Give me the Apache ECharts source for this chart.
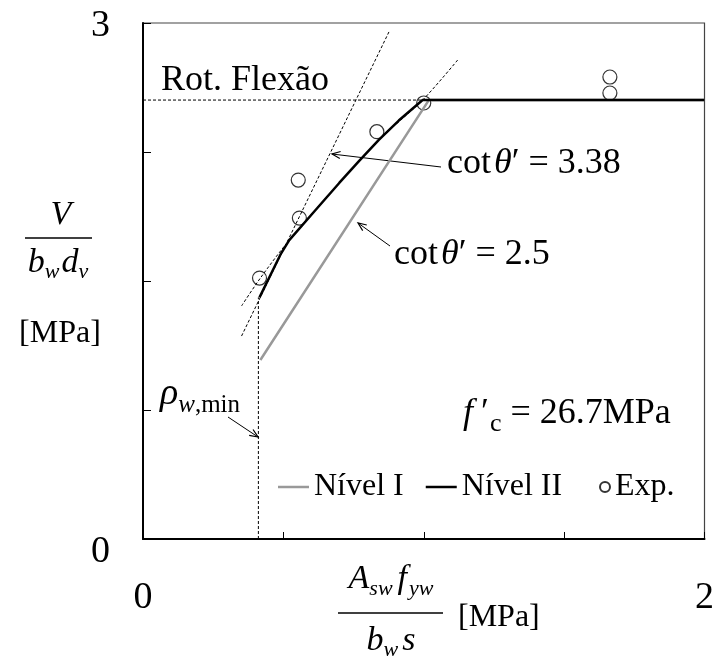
<!DOCTYPE html>
<html><head><meta charset="utf-8">
<script src="https://cdn.jsdelivr.net/npm/echarts@6/dist/echarts.min.js"></script>
<style>html,body{margin:0;padding:0;background:#fff}#c{width:717px;height:660px}</style>
</head><body><div id="c"></div>
<script>
// ---- data ----
const xTickLabels = {0: '0', 2: '2'};
const yTickLabels = {0: '0', 3: '3'};
const nivel1X = [0.418, 1.018, 2.0];
const nivel1Y = [1.041, 2.552, 2.552];
const nivel2X = [0.415, 0.492, 0.521, 0.610, 0.699, 0.770, 0.840, 0.911, 0.996, 2.0];
const nivel2Y = [1.405, 1.661, 1.738, 1.904, 2.070, 2.198, 2.320, 2.433, 2.552, 2.552];
const expX = [0.415, 0.557, 0.553, 0.833, 1.0, 1.663, 1.663];
const expY = [1.517, 1.866, 2.087, 2.368, 2.535, 2.593, 2.686];
const cot338X = [0.351, 0.876];
const cot338Y = [1.180, 2.948];
const curveX = [0.351, 0.418, 0.521, 0.699, 0.840, 0.996, 1.124];
const curveY = [1.355, 1.517, 1.738, 2.070, 2.320, 2.552, 2.791];
const flexX = [0, 1.0];
const flexY = [2.552, 2.552];
const rhoMinX = [0.411, 0.411];
const rhoMinY = [0, 1.405];

const pairs = (xs, ys) => xs.map((x, i) => [x, ys[i]]);
const SERIF = '"Liberation Serif", "Times New Roman", serif';

// text layout helper: pieces placed sequentially; y = baseline
const ctx = document.createElement('canvas').getContext('2d');
function fontStr(p) { return (p.italic ? 'italic ' : '') + p.size + 'px ' + SERIF; }
function runs(x, baseline, pieces, align) {
  const widths = pieces.map(p => { ctx.font = fontStr(p); return ctx.measureText(p.t).width + (p.gap || 0); });
  const total = widths.reduce((a, b) => a + b, 0);
  let cx = align === 'center' ? x - total / 2 : (align === 'right' ? x - total : x);
  const els = [];
  pieces.forEach((p, i) => {
    const by = baseline + (p.dy || 0);
    els.push({type: 'text', silent: true, x: cx, y: by - 0.305 * p.size,
      style: {text: p.t, font: fontStr(p), fill: '#000', align: 'left', verticalAlign: 'middle'}});
    cx += widths[i];
  });
  return els;
}
function arrow(x1, y1, x2, y2) { // tail -> tip
  const a = Math.atan2(y2 - y1, x2 - x1), L = 9, w = 0.4;
  return [
    {type: 'line', silent: true, shape: {x1, y1, x2, y2}, style: {stroke: '#000', lineWidth: 1}},
    {type: 'polyline', silent: true, shape: {points: [
      [x2 - L * Math.cos(a - w), y2 - L * Math.sin(a - w)], [x2, y2],
      [x2 - L * Math.cos(a + w), y2 - L * Math.sin(a + w)]]},
      style: {stroke: '#000', lineWidth: 1.2, fill: null}}
  ];
}

const graphics = [].concat(
  runs(161, 92, [{t: 'Rot. Flexão', size: 36}]),
  runs(447, 175, [{t: 'cot', size: 36, gap: 3}, {t: 'θ', size: 36, italic: true}, {t: '′', size: 36}, {t: ' = 3.38', size: 36}]),
  runs(394, 266, [{t: 'cot', size: 36, gap: 3}, {t: 'θ', size: 36, italic: true}, {t: '′', size: 36}, {t: ' = 2.5', size: 36}]),
  runs(463, 425, [{t: 'f', size: 36, italic: true, gap: 8}, {t: '′', size: 36, gap: 1}, {t: 'c', size: 26, dy: 7}, {t: ' = 26.7MPa', size: 36}]),
  runs(160, 406, [{t: 'ρ', size: 38, italic: true}, {t: 'w', size: 25, italic: true, dy: 7}, {t: ',min', size: 25, dy: 7}]),
  // y axis title
  runs(61, 225, [{t: 'V', size: 34, italic: true}], 'center'),
  [{type: 'line', silent: true, shape: {x1: 25, y1: 238, x2: 92, y2: 238}, style: {stroke: '#000', lineWidth: 1.3}}],
  runs(58, 273, [{t: 'b', size: 34, italic: true}, {t: 'w', size: 22, italic: true, dy: 6, gap: 2}, {t: 'd', size: 34, italic: true}, {t: 'v', size: 22, italic: true, dy: 6}], 'center'),
  runs(60, 343, [{t: '[MPa]', size: 32}], 'center'),
  // x axis title
  runs(391, 589, [{t: 'A', size: 34, italic: true}, {t: 'sw', size: 22, italic: true, dy: 7, gap: 5}, {t: 'f', size: 34, italic: true, gap: 2}, {t: 'yw', size: 22, italic: true, dy: 7}], 'center'),
  [{type: 'line', silent: true, shape: {x1: 338, y1: 613, x2: 443, y2: 613}, style: {stroke: '#000', lineWidth: 1.3}}],
  runs(391, 651, [{t: 'b', size: 34, italic: true}, {t: 'w', size: 22, italic: true, dy: 6, gap: 4}, {t: 's', size: 34, italic: true}], 'center'),
  runs(458, 627, [{t: '[MPa]', size: 32}]),
  arrow(441, 167, 332, 154),
  arrow(390, 246, 358, 223),
  arrow(228, 417, 258, 437)
);

const chart = echarts.init(document.getElementById('c'));
const option = {
  animation: false,
  backgroundColor: '#fff',
  grid: {left: 143, top: 23, width: 564, height: 516, show: true, borderColor: '#444', borderWidth: 1.2, backgroundColor: 'transparent'},
  xAxis: {
    type: 'value', min: 0, max: 2, interval: 0.5,
    splitLine: {show: false},
    axisLine: {lineStyle: {color: '#000', width: 2}},
    axisTick: {inside: true, length: 7, lineStyle: {color: '#000', width: 1}},
    axisLabel: {margin: 40, fontFamily: SERIF, fontSize: 38, color: '#000',
      formatter: v => (xTickLabels[v] !== undefined ? xTickLabels[v] : '')}
  },
  yAxis: {
    type: 'value', min: 0, max: 3, interval: 0.75,
    splitLine: {show: false},
    axisLine: {lineStyle: {color: '#000', width: 2}},
    axisTick: {inside: true, length: 8, lineStyle: {color: '#000', width: 1}},
    axisLabel: {margin: 33, fontFamily: SERIF, fontSize: 38, color: '#000',
      formatter: v => (yTickLabels[v] !== undefined ? (v === 0 ? '{lo|' + yTickLabels[v] + '}' : '{hi|' + yTickLabels[v] + '}') : ''),
      rich: {lo: {fontFamily: SERIF, fontSize: 38, color: '#000', padding: [26, 0, 0, 0]},
             hi: {fontFamily: SERIF, fontSize: 38, color: '#000', padding: [6, 0, 0, 0]}}}
  },
  legend: [
    {data: [{name: 'Nível I', icon: 'rect'}, {name: 'Nível II', icon: 'rect'}], left: 273, top: 466,
     itemWidth: 31, itemHeight: 2.5, itemGap: 22,
     textStyle: {fontFamily: SERIF, fontSize: 32, color: '#000'}},
    {data: [{name: 'Exp.', icon: 'circle'}], left: 594, top: 466, itemWidth: 10, itemHeight: 10,
     textStyle: {fontFamily: SERIF, fontSize: 32, color: '#000'}}
  ],
  series: [
    {type: 'line', name: 'flex', data: pairs(flexX, flexY), symbol: 'none', silent: true,
     lineStyle: {color: '#000', width: 1, type: [3, 2]}},
    {type: 'line', name: 'rhomin', data: pairs(rhoMinX, rhoMinY), symbol: 'none', silent: true,
     lineStyle: {color: '#000', width: 1, type: [3, 2]}},
    {type: 'line', name: 'cot338', data: pairs(cot338X, cot338Y), symbol: 'none', silent: true,
     lineStyle: {color: '#000', width: 1, type: [3, 2]}},
    {type: 'line', name: 'curve', data: pairs(curveX, curveY), symbol: 'none', silent: true, smooth: 0.3,
     lineStyle: {color: '#000', width: 1, type: [3, 2]}},
    {type: 'line', name: 'Nível I', data: pairs(nivel1X, nivel1Y), symbol: 'none',
     lineStyle: {color: '#999', width: 2.5}, itemStyle: {color: '#999'}},
    {type: 'line', name: 'Nível II', data: pairs(nivel2X, nivel2Y), symbol: 'none',
     lineStyle: {color: '#000', width: 2.5}, itemStyle: {color: '#000'}},
    {type: 'scatter', name: 'Exp.', data: pairs(expX, expY), symbol: 'circle', symbolSize: 14,
     itemStyle: {color: '#fff', borderColor: '#000', borderWidth: 1.2}}
  ],
  graphic: graphics
};
chart.setOption(option);
</script></body></html>
